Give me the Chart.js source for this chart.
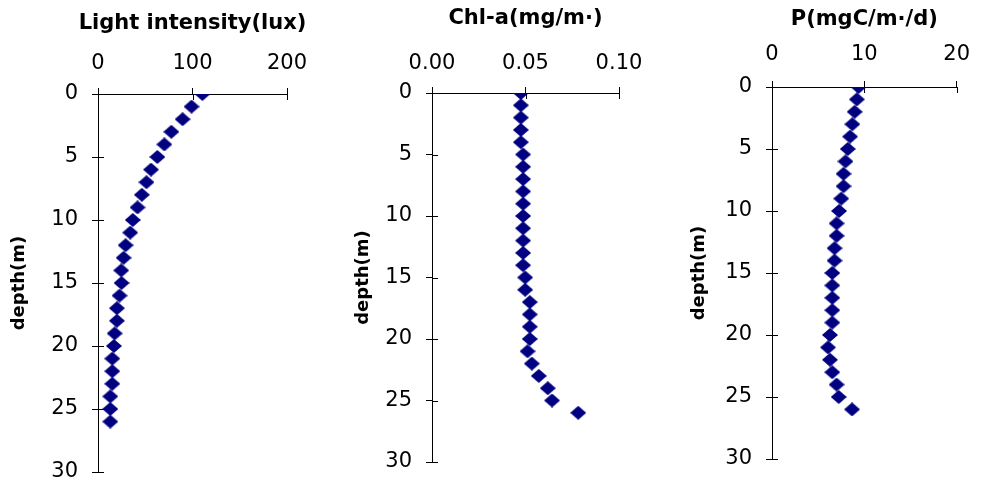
<!DOCTYPE html>
<html>
<head>
<script src="https://cdn.jsdelivr.net/npm/chart.js"></script>
<title>Depth profiles</title>
<style>
  html, body { margin: 0; padding: 0; background: #fff; overflow: hidden; }
  .panel { position: absolute; top: 0; height: 500px; }
</style>
</head>
<body>
<div class="panel" style="left:0px;width:320px"><canvas id="light"></canvas></div>
<div class="panel" style="left:330px;width:330px"><canvas id="chla"></canvas></div>
<div class="panel" style="left:660px;width:324px"><canvas id="prod"></canvas></div>
<script>
// depth (m) of each sample
const depths = [0, 1, 2, 3, 4, 5, 6, 7, 8, 9, 10, 11, 12, 13, 14, 15, 16, 17, 18, 19, 20, 21, 22, 23, 24, 25, 26];

// light intensity (lux)
const lightValues = [110.5, 99, 89.5, 77.6, 70.2, 62.8, 56.1, 51.3, 46.4, 41.8, 36.8, 34.1, 29.2, 27.1, 24.6,
                     24.9, 22.8, 20, 20, 17.6, 16.8, 15.1, 15.1, 15.1, 13, 13, 13];
// Chl-a (mg/m3)
const chlaValues = [0.0475, 0.0475, 0.0475, 0.0475, 0.0475, 0.0487, 0.0487, 0.0487, 0.0487, 0.0487, 0.0487,
                    0.0487, 0.0487, 0.0487, 0.0487, 0.0498, 0.0498, 0.0523, 0.0523, 0.0523, 0.0523, 0.0511,
                    0.0534, 0.0571, 0.0619, 0.0642, 0.0782];
// primary production P (mgC/m3/d)
const prodValues = [9.37, 9.19, 8.95, 8.7, 8.46, 8.21, 7.96, 7.75, 7.75, 7.5, 7.26, 7.0, 7.0, 6.77, 6.77,
                    6.53, 6.53, 6.53, 6.53, 6.53, 6.28, 6.07, 6.28, 6.53, 7.0, 7.23, 8.67];

const titles = ['Light intensity(lux)', 'Chl-a(mg/m\u00b7)', 'P(mgC/m\u00b7/d)'];
const depthTitle = 'depth(m)';

// diamond marker, a bit wider than tall
const marker = document.createElement('canvas');
marker.width = 16;
marker.height = 14;
(function () {
  const m = marker.getContext('2d');
  m.fillStyle = '#000080';
  m.beginPath();
  m.moveTo(8, 0);
  m.lineTo(16, 7);
  m.lineTo(8, 14);
  m.lineTo(0, 7);
  m.closePath();
  m.fill();
})();

// small part of each tick that reaches into the plot (cross ticks)
const crossTicks = {
  id: 'crossTicks',
  beforeDatasetsDraw(chart) {
    const ctx = chart.ctx, area = chart.chartArea;
    const xs = chart.scales.x, ys = chart.scales.y;
    ctx.save();
    ctx.strokeStyle = '#000';
    ctx.lineWidth = 1;
    ctx.beginPath();
    xs.ticks.forEach(t => {
      const px = Math.round(xs.getPixelForValue(t.value)) + 0.5;
      ctx.moveTo(px, area.top);
      ctx.lineTo(px, area.top + 6);
    });
    ys.ticks.forEach(t => {
      const py = Math.round(ys.getPixelForValue(t.value)) + 0.5;
      ctx.moveTo(area.left, py);
      ctx.lineTo(area.left + 6, py);
    });
    ctx.stroke();
    ctx.restore();
  }
};

// panel title centred over the plot; may be wider than the axis (scale titles get squeezed)
const topTitle = {
  id: 'topTitle',
  afterDraw(chart, args, opts) {
    const ctx = chart.ctx, area = chart.chartArea;
    ctx.save();
    ctx.font = 'bold 21px "DejaVu Sans"';
    ctx.fillStyle = '#000';
    ctx.textAlign = 'center';
    ctx.textBaseline = 'middle';
    ctx.fillText(opts.text, (area.left + area.right) / 2, opts.y);
    ctx.restore();
  }
};

function makeChart(id, title, values, p) {
  const points = depths.map((d, i) => ({x: values[i], y: d}));
  return new Chart(document.getElementById(id), {
    type: 'scatter',
    data: {
      datasets: [{
        data: points,
        pointStyle: marker,
        pointRadius: 8,
        pointHoverRadius: 8
      }]
    },
    options: {
      responsive: true,
      maintainAspectRatio: false,
      animation: false,
      events: [],
      layout: { padding: {left: 0, top: 0, right: p.padRight, bottom: p.padBottom} },
      plugins: {
        legend: {display: false},
        tooltip: {enabled: false},
        topTitle: {text: title, y: p.titleY}
      },
      scales: {
        x: {
          type: 'linear',
          position: 'top',
          min: 0,
          max: p.xMax,
          afterFit: s => { s.height = p.top; },
          ticks: {
            stepSize: p.xStep,
            color: '#000',
            padding: p.xTickPad,
            maxRotation: 0,
            font: {family: 'DejaVu Sans', size: 21},
            callback: v => p.decimals ? v.toFixed(p.decimals) : v
          },
          grid: { drawOnChartArea: false, tickLength: 6, color: '#000' },
          border: { color: '#000', width: 1 }
        },
        y: {
          type: 'linear',
          reverse: true,
          min: 0,
          max: 30,
          afterFit: s => { s.width = p.yWidth; },
          title: {
            display: true,
            text: depthTitle,
            color: '#000',
            font: {family: 'DejaVu Sans', size: 18, weight: 'bold'},
            padding: p.yTitlePad
          },
          ticks: {
            stepSize: 5,
            color: '#000',
            padding: 14,
            font: {family: 'DejaVu Sans', size: 21}
          },
          grid: { drawOnChartArea: false, tickLength: 6, color: '#000' },
          border: { color: '#000', width: 1 }
        }
      }
    },
    plugins: [crossTicks, topTitle]
  });
}

makeChart('light', titles[0], lightValues,
  {xMax: 200, xStep: 100, decimals: 0, top: 94, yWidth: 98, padRight: 33, padBottom: 28,
   titleY: 24, xTickPad: 12, yTitlePad: 9});
makeChart('chla', titles[1], chlaValues,
  {xMax: 0.1, xStep: 0.05, decimals: 2, top: 93, yWidth: 102, padRight: 41, padBottom: 38,
   titleY: 19, xTickPad: 11, yTitlePad: 23});
makeChart('prod', titles[2], prodValues,
  {xMax: 20, xStep: 10, decimals: 0, top: 87, yWidth: 112, padRight: 22, padBottom: 41,
   titleY: 20, xTickPad: 14, yTitlePad: 29});
</script>
</body>
</html>
